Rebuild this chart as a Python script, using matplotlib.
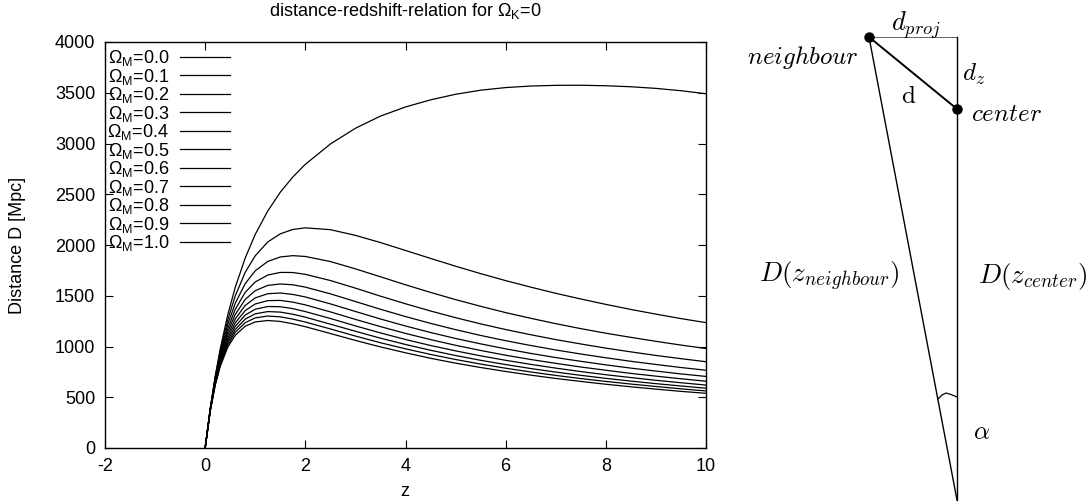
import matplotlib
matplotlib.use("Agg")
import matplotlib.pyplot as plt

plt.rcParams['font.family'] = ['Liberation Sans', 'DejaVu Sans']
plt.rcParams['font.size'] = 13
plt.rcParams['axes.unicode_minus'] = False

# redshift grid and angular diameter distances [Mpc]
z = [0, 0.1, 0.2, 0.3, 0.45, 0.6, 0.8, 1.0, 1.25, 1.5, 1.75, 2.0, 2.5, 3.0, 3.5,
     4.0, 4.5, 5.0, 5.5, 6.0, 6.5, 7.0, 7.5, 8.0, 8.5, 9.0, 9.5, 10.0]
om_labels = ['0.0', '0.1', '0.2', '0.3', '0.4', '0.5', '0.6', '0.7', '0.8', '0.9', '1.0']
d_om00 = [0, 385, 705, 975, 1310, 1582, 1872, 2105, 2335, 2520, 2670, 2795, 2995, 3150, 3270,
          3360, 3430, 3485, 3525, 3551, 3566, 3573, 3574, 3569, 3559, 3543, 3520, 3490]
d_om01 = [0, 382, 695, 953, 1261, 1498, 1731, 1894, 2030, 2110, 2153, 2169, 2151, 2095, 2024,
          1946, 1868, 1791, 1718, 1649, 1585, 1524, 1468, 1415, 1365, 1319, 1275, 1235]
d_om02 = [0, 379, 684, 930, 1216, 1425, 1620, 1746, 1838, 1882, 1895, 1887, 1837, 1765, 1687,
          1608, 1533, 1462, 1396, 1334, 1278, 1225, 1176, 1131, 1090, 1051, 1014, 980]
d_om03 = [0, 377, 674, 910, 1176, 1365, 1534, 1636, 1704, 1730, 1729, 1711, 1650, 1575, 1496,
          1421, 1350, 1284, 1223, 1167, 1116, 1068, 1025, 984, 947, 912, 880, 850]
d_om04 = [0, 374, 664, 891, 1142, 1315, 1464, 1550, 1602, 1616, 1608, 1585, 1519, 1443, 1367,
          1295, 1228, 1166, 1109, 1057, 1010, 966, 926, 889, 854, 823, 793, 766]
d_om05 = [0, 371, 655, 873, 1111, 1271, 1405, 1479, 1520, 1527, 1513, 1488, 1420, 1345, 1271,
          1202, 1138, 1079, 1026, 977, 932, 891, 854, 819, 787, 758, 730, 705]
d_om06 = [0, 369, 647, 858, 1083, 1232, 1354, 1419, 1452, 1454, 1437, 1410, 1341, 1267, 1196,
          1129, 1068, 1012, 961, 914, 872, 834, 798, 766, 735, 708, 682, 658]
d_om07 = [0, 366, 639, 843, 1058, 1198, 1310, 1367, 1394, 1392, 1373, 1344, 1276, 1203, 1134,
          1069, 1010, 957, 908, 864, 824, 787, 753, 722, 694, 667, 643, 620]
d_om08 = [0, 364, 631, 829, 1035, 1167, 1270, 1322, 1344, 1339, 1318, 1289, 1220, 1150, 1082,
          1020, 963, 911, 864, 822, 783, 748, 716, 686, 659, 634, 611, 589]
d_om09 = [0, 362, 624, 816, 1014, 1139, 1235, 1282, 1300, 1292, 1270, 1241, 1173, 1103, 1037,
          977, 922, 872, 827, 786, 749, 715, 684, 656, 630, 606, 583, 562]
d_om10 = [0, 359, 616, 802, 992, 1110, 1200, 1242, 1256, 1247, 1224, 1195, 1128, 1060, 996,
          938, 884, 836, 793, 754, 718, 685, 656, 628, 603, 580, 558, 539]
curves = [d_om00, d_om01, d_om02, d_om03, d_om04, d_om05, d_om06, d_om07, d_om08, d_om09, d_om10]

fig = plt.figure(figsize=(10.9, 5.03), dpi=100)
ax = fig.add_axes([105/1090, 1-448/503, 601/1090, 406/503])

for lab, d in zip(om_labels, curves):
    ax.plot(z, d, color='black', lw=0.9, label=r'Ω$_\mathregular{M}$=' + lab)

ax.set_xlim(-2, 10)
ax.set_ylim(0, 4000)
ax.set_xticks(range(-2, 11, 2))
ax.set_yticks(range(0, 4001, 500))
ax.tick_params(direction='in', top=True, right=True, length=6, width=0.8, pad=7)
for s in ax.spines.values():
    s.set_linewidth(1.0)

ax.legend(loc='upper left', bbox_to_anchor=(0.004, 0.985), frameon=False,
          markerfirst=False, handlelength=2.77, handletextpad=0.61,
          labelspacing=-0.082, borderpad=0, borderaxespad=0)

fig.text(405/1090, 1-11/503, r'distance-redshift-relation for Ω$_\mathregular{K}$=0',
         ha='center', va='center')
fig.text(18/1090, 1-245/503, 'Distance D [Mpc]', rotation=90, ha='center', va='center')
fig.text(405/1090, 1-492/503, 'z', ha='center', va='center')

# sketch of the pair geometry (figure pixel coordinates)
sk = fig.add_axes([0, 0, 1, 1], facecolor='none')
sk.set_xlim(0, 1090)
sk.set_ylim(503, 0)
sk.axis('off')

nb = (869, 37)
cen = (957, 109)
apex = (957, 500)
corner = (957, 37)
arc_x = [938, 942, 946, 951, 957]
arc_y = [399, 395, 393, 394.5, 397]

sk.plot([nb[0], corner[0]], [nb[1], corner[1]], color='0.4', lw=0.7)
sk.plot([corner[0], apex[0]], [corner[1], apex[1]], color='black', lw=1.0)
sk.plot([nb[0], apex[0]], [nb[1], apex[1]], color='black', lw=1.0)
sk.plot([nb[0], cen[0]], [nb[1], cen[1]], color='black', lw=1.4)
sk.plot(arc_x, arc_y, color='black', lw=0.9)
sk.plot([nb[0], cen[0]], [nb[1], cen[1]], 'o', color='black', ms=6.5)

cm = dict(math_fontfamily='cm', fontsize=18, ha='center', va='center')
sk.text(916, 25, r'$d_{proj}$', math_fontfamily='cm', fontsize=19, ha='center', va='center')
sk.text(803, 57, r'$neighbour$', **cm)
sk.text(974, 74, r'$d_z$', **cm)
sk.text(909, 96, r'$\mathrm{d}$', math_fontfamily='cm', fontsize=18, ha='center', va='center')
sk.text(1006, 114, r'$center$', **cm)
sk.text(829, 276, r'$D(z_{neighbour})$', math_fontfamily='cm', fontsize=19.5, ha='center', va='center')
sk.text(1033, 276, r'$D(z_{center})$', math_fontfamily='cm', fontsize=19.5, ha='center', va='center')
sk.text(982, 432, r'$\alpha$', **cm)

fig.savefig('out.png', dpi=100)
